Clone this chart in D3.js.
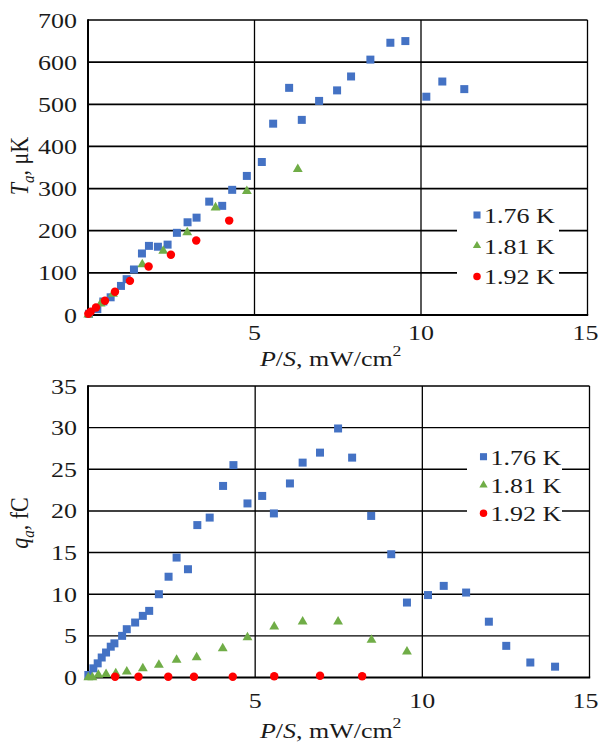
<!DOCTYPE html>
<html lang="en">
<head>
  <meta charset="UTF-8">
  <title>Ta and qa vs P/S</title>
  <style>
    * { margin: 0; padding: 0; box-sizing: border-box; }
    body { background: #fff; }
    text { font-family: "Liberation Serif", "Times New Roman", serif; fill: #1a1a1a; }
  </style>
</head>
<body>
  <div id="chart"></div>

  <script src="https://d3js.org/d3.v7.min.js"></script>
  <script>
  // series labels and colours
  var seriesNames = ["1.76 K", "1.81 K", "1.92 K"];
  var seriesColors = ["#4472C4", "#70AD47", "#FF0000"];

  // top panel: T_a (uK) vs P/S (mW/cm2)
  var taBlue = [[0.03,3],[0.28,14],[0.46,32],[0.68,42],[0.99,69],[1.16,85],[1.38,108],[1.62,146],[1.83,164],[2.10,162],[2.39,167],[2.67,195],[2.99,220],[3.26,231],[3.64,269],[4.03,259],[4.33,297],[4.77,330],[5.22,363],[5.56,454],[6.04,539],[6.42,463],[6.94,508],[7.48,533],[7.90,566],[8.48,606],[9.08,646],[9.53,650],[10.16,518],[10.64,554],[11.30,536]];
  var taGreen = [[0.01,1],[0.38,27],[0.75,50],[1.63,120],[2.26,152],[2.98,196],[3.83,255],[4.77,294],[6.30,346]];
  var taRed = [[0.01,3],[0.08,8],[0.24,18],[0.51,34],[0.81,55],[1.26,81],[1.82,115],[2.49,143],[3.25,177],[4.24,224]];
  var taTicks = [0,100,200,300,400,500,600,700];

  // bottom panel: q_a (fC) vs P/S (mW/cm2)
  var qaBlue = [[0.01,0.3],[0.16,1.1],[0.29,1.7],[0.41,2.4],[0.54,3.0],[0.68,3.7],[0.79,4.1],[1.02,5.0],[1.16,5.8],[1.41,6.6],[1.64,7.4],[1.83,8.0],[2.12,10.0],[2.41,12.1],[2.65,14.4],[2.99,13.0],[3.27,18.3],[3.64,19.2],[4.04,23.0],[4.35,25.5],[4.77,20.9],[5.21,21.8],[5.56,19.7],[6.04,23.3],[6.42,25.8],[6.94,27.0],[7.48,29.9],[7.90,26.4],[8.47,19.4],[9.07,14.8],[9.54,9.0],[10.17,9.9],[10.64,11.0],[11.31,10.2],[11.99,6.7],[12.51,3.8],[13.23,1.8],[13.97,1.3]];
  var qaGreen = [[0.01,0],[0.13,0],[0.31,0.3],[0.54,0.4],[0.83,0.5],[1.16,0.7],[1.64,1.1],[2.12,1.5],[2.65,2.1],[3.25,2.4],[4.03,3.5],[4.77,4.8],[5.57,6.1],[6.42,6.7],[7.48,6.7],[8.48,4.5],[9.54,3.1]];
  var qaRed = [[0.81,0.1],[1.51,0.1],[2.40,0.1],[3.17,0.1],[4.33,0.1],[5.57,0.15],[6.94,0.2],[8.20,0.15]];
  var qaTicks = [0,5,10,15,20,25,30,35];

  var xTicks = [5, 10, 15];
  var stretch = 1.18; // the source text is a bit wide

  var svg = d3.select("#chart").append("svg")
    .attr("width", 600)
    .attr("height", 742);

  var symbols = [d3.symbolSquare, d3.symbolTriangle, d3.symbolCircle];
  var symbolSizes = [64, 42, 56];
  var legendSizes = [50, 30, 44];

  function stretchedText(g, x, y, anchor, size) {
    return g.append("text")
      .attr("transform", "translate(" + x + "," + y + ") scale(" + stretch + ",1)")
      .attr("text-anchor", anchor)
      .style("font-size", size + "px");
  }

  function drawPanel(p) {
    var x = d3.scaleLinear().domain([0, 15]).range([p.left, p.right]);
    var y = d3.scaleLinear().domain([0, p.yMax]).range([p.bottom, p.top]);
    var g = svg.append("g");

    // horizontal grid
    g.selectAll(".hgrid")
      .data(p.yTicks.filter(function(d) { return d > 0; }))
      .enter().append("line")
        .attr("x1", p.left).attr("x2", p.right)
        .attr("y1", function(d) { return y(d); })
        .attr("y2", function(d) { return y(d); })
        .attr("stroke", "#000")
        .attr("stroke-width", p.hWidth);

    // vertical grid
    g.selectAll(".vgrid")
      .data(xTicks)
      .enter().append("line")
        .attr("x1", function(d) { return x(d); })
        .attr("x2", function(d) { return x(d); })
        .attr("y1", p.top).attr("y2", p.bottom)
        .attr("stroke", "#000")
        .attr("stroke-width", 1.3);

    // axes lines
    g.append("line")
      .attr("x1", p.left).attr("x2", p.left)
      .attr("y1", p.top - 0.8).attr("y2", p.bottom)
      .attr("stroke", "#000").attr("stroke-width", 2);
    g.append("line")
      .attr("x1", p.left).attr("x2", p.right + 0.7)
      .attr("y1", p.bottom).attr("y2", p.bottom)
      .attr("stroke", "#000").attr("stroke-width", 2.2);

    // y tick labels
    p.yTicks.forEach(function(d) {
      stretchedText(g, p.left - 11, y(d) + 7.5, "end", 22).text(d);
    });
    // x tick labels (last one kept inside the page)
    xTicks.forEach(function(d) {
      stretchedText(g, Math.min(x(d), 585.5), p.bottom + p.xTickOffset, "middle", 22).text(d);
    });

    // legend box (hides grid lines behind it)
    g.append("rect")
      .attr("x", p.legend.x0).attr("y", p.legend.y0)
      .attr("width", p.legend.x1 - p.legend.x0)
      .attr("height", p.legend.y1 - p.legend.y0)
      .attr("fill", "#fff");

    // points
    p.series.forEach(function(data, i) {
      g.selectAll(".pt" + i)
        .data(data)
        .enter().append("path")
          .attr("d", d3.symbol().type(symbols[i]).size(symbolSizes[i]))
          .attr("transform", function(d) { return "translate(" + x(d[0]) + "," + y(d[1]) + ")"; })
          .attr("fill", seriesColors[i]);
    });

    // legend entries
    seriesNames.forEach(function(name, i) {
      var ly = p.legend.rowY + i * p.legend.step;
      g.append("path")
        .attr("d", d3.symbol().type(symbols[i]).size(legendSizes[i]))
        .attr("transform", "translate(" + p.legend.markX + "," + ly + ")")
        .attr("fill", seriesColors[i]);
      stretchedText(g, p.legend.markX + 7, ly + 8, "start", 22).text(name);
    });

    // x axis label
    var xl = stretchedText(g, 260, p.xLabelY, "start", 22);
    xl.append("tspan").style("font-style", "italic").text("P");
    xl.append("tspan").text("/");
    xl.append("tspan").style("font-style", "italic").text("S");
    xl.append("tspan").text(", mW/cm");
    xl.append("tspan").attr("dy", -10).style("font-size", "15px").text("2");

    // y axis label
    var yl = g.append("text")
      .attr("transform", "translate(28," + p.yLabelY + ") scale(" + stretch + ",1) rotate(-90)")
      .attr("text-anchor", "middle")
      .style("font-size", "22px");
    yl.append("tspan").style("font-style", "italic").text(p.yVar);
    yl.append("tspan").attr("dy", 5).style("font-style", "italic").style("font-size", "15px").text("a");
    yl.append("tspan").attr("dy", -5).text(", " + p.yUnit);
  }

  drawPanel({
    left: 88, right: 587.5, top: 20, bottom: 315, yMax: 700,
    yTicks: taTicks, hWidth: 1.7, xTickOffset: 25, xLabelY: 366, yLabelY: 166,
    yVar: "T", yUnit: "\u03bcK",
    series: [taBlue, taGreen, taRed],
    legend: { x0: 457, x1: 559, y0: 200, y1: 290, markX: 477, rowY: 215, step: 30.7 }
  });

  drawPanel({
    left: 88, right: 589.5, top: 386, bottom: 677.5, yMax: 35,
    yTicks: qaTicks, hWidth: 1.4, xTickOffset: 30, xLabelY: 738, yLabelY: 523,
    yVar: "q", yUnit: "fC",
    series: [qaBlue, qaGreen, qaRed],
    legend: { x0: 467, x1: 562, y0: 442, y1: 527, markX: 483.5, rowY: 456.7, step: 28.3 }
  });
  </script>
</body>
</html>
